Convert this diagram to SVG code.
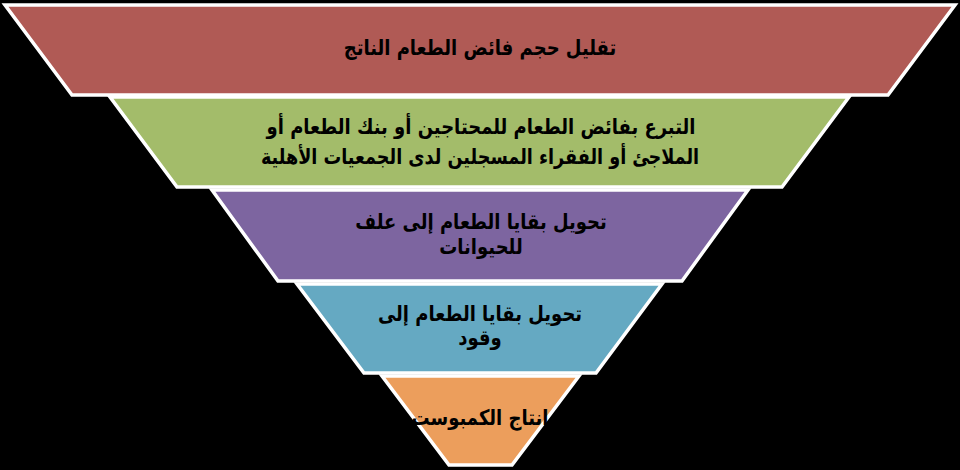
<svg xmlns="http://www.w3.org/2000/svg" width="960" height="470" viewBox="0 0 960 470">
<style>
.tier{stroke:#ffffff;stroke-width:3.5;stroke-linejoin:miter}
.lbl{font-family:"DejaVu Sans","Noto Sans",sans-serif;font-weight:bold;font-size:18px;fill:#000000;text-anchor:middle;direction:rtl}
</style>
<rect x="0" y="0" width="960" height="470" fill="#000000"/>
<g id="tier1">
<polygon class="tier" points="5,5 955,5 888,95 72,95" fill="#B05A55"/>
<text class="lbl" transform="translate(480,55) scale(1,1.18)">تقليل حجم فائض الطعام الناتج</text>
</g>
<g id="tier2">
<polygon class="tier" points="110,97 849,97 782,187 177,187" fill="#A3BC6A"/>
<text class="lbl" transform="translate(481,134) scale(1,1.18)">التبرع بفائض الطعام للمحتاجين أو بنك الطعام أو</text>
<text class="lbl" transform="translate(480,164) scale(0.98,1.18)">الملاجئ أو الفقراء المسجلين لدى الجمعيات الأهلية</text>
</g>
<g id="tier3">
<polygon class="tier" points="212,190 748,190 682,281 278,281" fill="#7D65A0"/>
<text class="lbl" transform="translate(481,229) scale(1,1.18)">تحويل بقايا الطعام إلى علف</text>
<text class="lbl" transform="translate(481,254) scale(1,1.18)">للحيوانات</text>
</g>
<g id="tier4">
<polygon class="tier" points="297,284 662,284 596,373 364,373" fill="#65A9C2"/>
<text class="lbl" transform="translate(480,321) scale(1,1.18)">تحويل بقايا الطعام إلى</text>
<text class="lbl" transform="translate(480,345) scale(1,1.18)">وقود</text>
</g>
<g id="tier5">
<polygon class="tier" points="382,376 579,376 512,465 449,465" fill="#EC9E5C"/>
<text class="lbl" transform="translate(480,425) scale(1,1.18)">انتاج الكمبوست</text>
</g>
<g id="connectors"/>
</svg>
